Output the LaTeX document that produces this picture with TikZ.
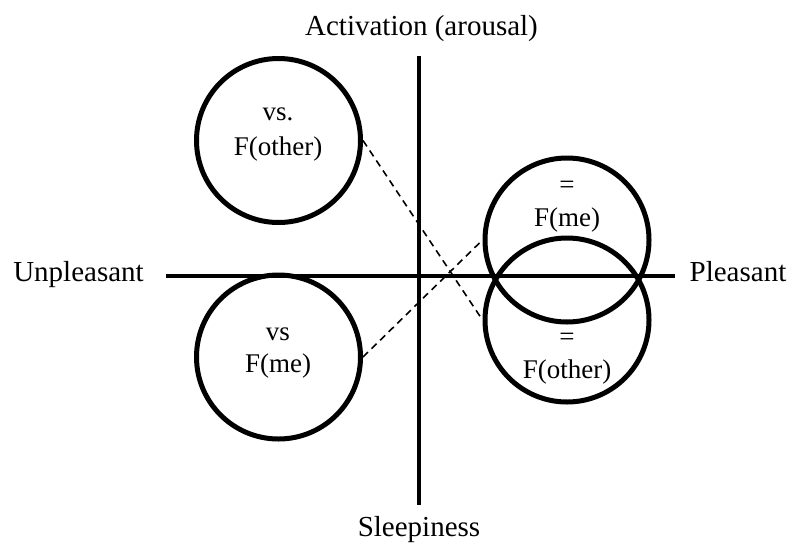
\documentclass[tikz,border=0pt]{standalone}
\usepackage{fontspec}
\setmainfont{Liberation Serif}
\begin{document}
\begin{tikzpicture}[x=1pt,y=-1pt,
  axisline/.style={line width=3.6pt},
  bigcircle/.style={circle,draw,line width=5pt,minimum size=164pt,inner sep=0pt},
  dashlink/.style={line width=1.6pt,dash pattern=on 7pt off 5pt},
  outerlabel/.style={font=\fontsize{29}{34}\selectfont,anchor=base,inner sep=0pt},
  innerlabel/.style={font=\fontsize{27}{32}\selectfont,anchor=base,inner sep=0pt}]
\useasboundingbox (0,0) rectangle (795,552);
% axes
\coordinate (vtop) at (419,56);
\coordinate (vbot) at (419,505);
\coordinate (hleft) at (166,276);
\coordinate (hright) at (675,276);
\draw[axisline] (vtop) -- (vbot);
\draw[axisline] (hleft) -- (hright);
% circles
\node[bigcircle] (tl) at (278.5,140.5) {};
\node[bigcircle] (bl) at (278.5,357) {};
\node[bigcircle] (tr) at (567,240) {};
\node[bigcircle] (br) at (567,320) {};
% dashed links
\draw[dashlink] (tl.east) -- (br.west);
\draw[dashlink] (bl.east) -- (tr.west);
% inner texts
\node[innerlabel] (tl1) at (278,120) {vs.};
\node[innerlabel] (tl2) at (278,155) {F(other)};
\node[innerlabel] (bl1) at (278,340) {vs};
\node[innerlabel] (bl2) at (278,372) {F(me)};
\node[innerlabel] (tr1) at (567,193) {=};
\node[innerlabel] (tr2) at (567,226) {F(me)};
\node[innerlabel] (br1) at (567,345) {=};
\node[innerlabel] (br2) at (567,378) {F(other)};
% outer labels
\node[outerlabel] (act) at (421.5,35) {Activation (arousal)};
\node[outerlabel] (sle) at (419,536) {Sleepiness};
\node[outerlabel] (unp) at (78.5,281) {Unpleasant};
\node[outerlabel] (ple) at (738,281) {Pleasant};
\end{tikzpicture}
\end{document}
